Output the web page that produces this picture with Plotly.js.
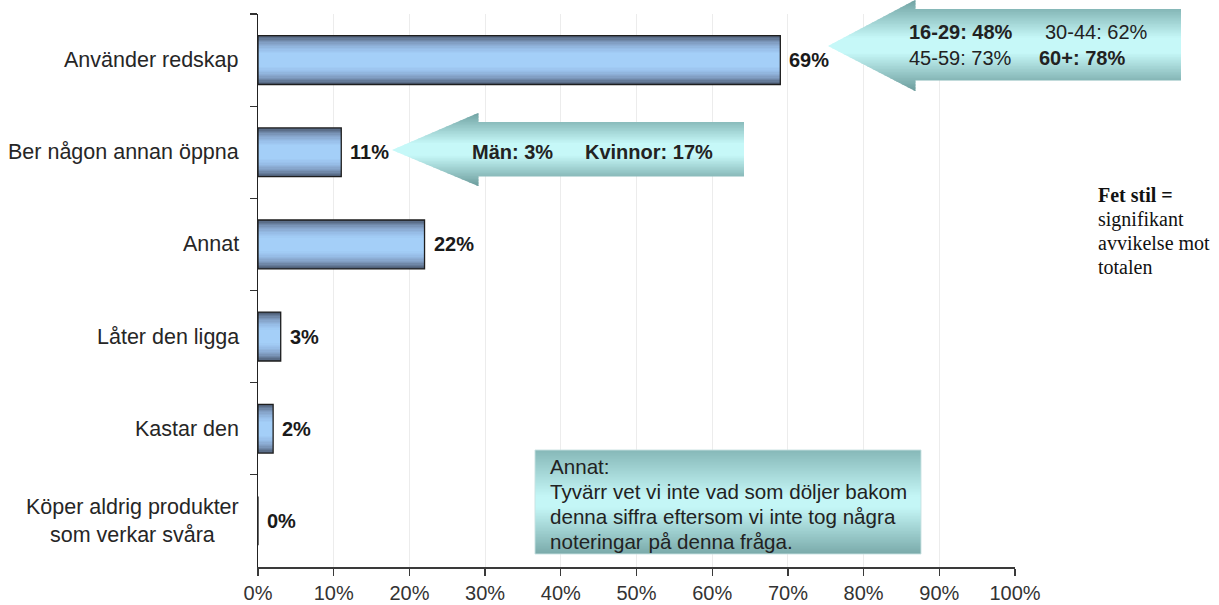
<!DOCTYPE html>
<html><head><meta charset="utf-8">
<script src="https://cdn.plot.ly/plotly-3.0.1.min.js"></script>
<style>html,body{margin:0;padding:0;background:#fff}#chart{width:1219px;height:605px}</style>
</head><body><div id="chart"></div>
<script>
// ---------- data ----------
const categories = ['Använder redskap', 'Ber någon annan öppna', 'Annat', 'Låter den ligga', 'Kastar den', 'Köper aldrig produkter<br>som verkar svåra'];
const values = [69, 11, 22, 3, 2, 0];
const valueLabels = ['69%', '11%', '22%', '3%', '2%', '0%'];
const xTickVals = [0, 10, 20, 30, 40, 50, 60, 70, 80, 90, 100];
const xTickText = ['0%', '10%', '20%', '30%', '40%', '50%', '60%', '70%', '80%', '90%', '100%'];
const ageLabels = ['16-29: 48%', '30-44: 62%', '45-59: 73%', '60+: 78%'];
const ageBold = [true, false, false, true];
const genderLabels = ['Män: 3%', 'Kvinnor: 17%'];
const noteLines = ['Annat:', 'Tyvärr vet vi inte vad som döljer bakom', 'denna siffra eftersom vi inte tog några', 'noteringar på denna fråga.'];
const legendLines = ['<b>Fet stil =</b>', 'signifikant', 'avvikelse mot', 'totalen'];

// ---------- geometry helpers (layout only) ----------
const W = 1219, H = 605, ML = 258, MR = 204, MT = 14, MB = 38;
const PW = W - ML - MR, PH = H - MT - MB;
const px = x => (x - ML) / PW;
const py = y => (H - MB - y) / PH;
const FONT = 'Liberation Sans, Arial, sans-serif';

function mix(a, b, t) { return a.map((v, i) => Math.round(v + (b[i] - v) * t)); }
function gradRGB(stops, t) {
  t = Math.max(0, Math.min(1, t));
  for (let i = 1; i < stops.length; i++) {
    if (t <= stops[i][0]) {
      const s0 = stops[i - 1], s1 = stops[i];
      return mix(s0[1], s1[1], (t - s0[0]) / (s1[0] - s0[0] || 1));
    }
  }
  return stops[stops.length - 1][1];
}
const gradColor = (stops, t) => 'rgb(' + gradRGB(stops, t).join(',') + ')';
const tealStops = [[0, [112, 162, 162]], [0.42, [198, 248, 248]], [0.58, [198, 248, 248]], [1, [108, 156, 156]]];

const shapes = [];
function arrowShapes(a) {
  const ys = [];
  for (let y = a.headTop; y < a.headBot; y += 1.5) ys.push(y);
  ys.push(a.headBot, a.bodyTop, a.bodyBot, a.tipY);
  const uniq = [...new Set(ys.map(v => +v.toFixed(3)))].sort((p, q) => p - q);
  const leftX = y => {
    if (y <= a.tipY) return a.tipX + (a.headX - a.tipX) * (a.tipY - y) / (a.tipY - a.headTop);
    return a.tipX + (a.headX - a.tipX) * (y - a.tipY) / (a.headBot - a.tipY);
  };
  for (let i = 0; i < uniq.length - 1; i++) {
    const y0 = uniq[i];
    const y1 = Math.min(uniq[i + 1] + 0.5, a.headBot);
    const mid = (uniq[i] + uniq[i + 1]) / 2;
    const right = (mid > a.bodyTop && mid < a.bodyBot) ? a.rightX : a.headX + 0.5;
    const y1b = (mid < a.tipY) ? Math.min(y1, a.tipY) : y1;
    const path = 'M' + px(leftX(y0)) + ',' + py(y0) + ' L' + px(right) + ',' + py(y0) +
      ' L' + px(right) + ',' + py(y1b) + ' L' + px(leftX(y1b)) + ',' + py(y1b) + ' Z';
    shapes.push({type: 'path', xref: 'paper', yref: 'paper', path: path,
      fillcolor: gradColor(tealStops, (mid - a.headTop) / (a.headBot - a.headTop)), line: {width: 0}, layer: 'above'});
  }
}
arrowShapes({tipX: 828, tipY: 46, headX: 915, headTop: 0, headBot: 91, bodyTop: 9, bodyBot: 80, rightX: 1181});
arrowShapes({tipX: 392, tipY: 150, headX: 478, headTop: 113, headBot: 186, bodyTop: 122, bodyBot: 176, rightX: 744});

// note box with vertical gradient
(function () {
  const x0 = 535, x1 = 921, y0 = 450, y1 = 554;
  const boxStops = [[0, [134, 184, 184]], [0.45, [196, 246, 246]], [0.55, [196, 246, 246]], [1, [122, 170, 170]]];
  for (let y = y0; y < y1; y += 1.5) {
    const yb = Math.min(y + 2, y1);
    shapes.push({type: 'rect', xref: 'paper', yref: 'paper', x0: px(x0), x1: px(x1), y0: py(y), y1: py(yb),
      fillcolor: gradColor(boxStops, (y + 0.75 - y0) / (y1 - y0)), line: {width: 0}, layer: 'above'});
  }
  shapes.push({type: 'rect', xref: 'paper', yref: 'paper', x0: px(x0), x1: px(x1), y0: py(y0), y1: py(y1),
    fillcolor: 'rgba(0,0,0,0)', line: {width: 1, color: 'rgba(200,225,225,0.9)'}, layer: 'above'});
})();

// ---------- bar traces (gradient by overlaid layers) ----------
const BW = 0.53;
const barStops = [[0, [80, 97, 122]], [0.35, [128, 156, 192]], [0.7, [152, 190, 232]], [1, [164, 207, 248]]];
const NL = 14;
const traces = [];
for (let i = 0; i < NL; i++) {
  const t = i / (NL - 1);
  traces.push({
    type: 'bar', orientation: 'h', x: values, y: categories, width: BW * (1 - 0.72 * t),
    marker: {color: gradColor(barStops, t), line: {width: 0}}, hoverinfo: 'skip', showlegend: false
  });
}
traces.push({
  type: 'bar', orientation: 'h', x: values, y: categories, width: BW,
  marker: {color: 'rgba(0,0,0,0)', line: {width: 1.3, color: '#1e1e1e'}}, hoverinfo: 'skip', showlegend: false
});

// ---------- annotations ----------
const annotations = [];
categories.forEach((c, i) => {
  annotations.push({xref: 'paper', x: 0, xanchor: 'right', xshift: -17, yref: 'y', y: c, yanchor: 'middle',
    text: c, showarrow: false, align: 'center', font: {family: FONT, size: 21.5, color: '#262626'}});
  annotations.push({xref: 'x', x: values[i], xanchor: 'left', xshift: 7, yref: 'y', y: c, yanchor: 'middle',
    text: '<b>' + valueLabels[i] + '</b>', showarrow: false, font: {family: FONT, size: 20, color: '#1a1a1a'}});
});
const agePos = [[907, 32], [1043, 32], [907, 58], [1037, 58]];
ageLabels.forEach((t, i) => {
  annotations.push({xref: 'paper', yref: 'paper', x: px(agePos[i][0]), y: py(agePos[i][1]), xanchor: 'left', yanchor: 'middle',
    text: ageBold[i] ? '<b>' + t + '</b>' : t, showarrow: false, font: {family: FONT, size: 20, color: '#222'}});
});
const genderPos = [[470, 152], [583, 152]];
genderLabels.forEach((t, i) => {
  annotations.push({xref: 'paper', yref: 'paper', x: px(genderPos[i][0]), y: py(genderPos[i][1]), xanchor: 'left', yanchor: 'middle',
    text: '<b>' + t + '</b>', showarrow: false, font: {family: FONT, size: 20, color: '#222'}});
});
noteLines.forEach((t, i) => {
  annotations.push({xref: 'paper', yref: 'paper', x: px(548), y: py(466 + 25 * i), xanchor: 'left', yanchor: 'middle',
    text: t, showarrow: false, font: {family: FONT, size: 20.6, color: '#222'}});
});
legendLines.forEach((t, i) => {
  annotations.push({xref: 'paper', yref: 'paper', x: px(1096), y: py(195 + 24 * i), xanchor: 'left', yanchor: 'middle',
    text: t, showarrow: false, font: {family: 'Liberation Serif, Times New Roman, serif', size: 20, color: '#111'}});
});

const layout = {
  width: W, height: H,
  margin: {l: ML, r: MR, t: MT, b: MB, pad: 0},
  paper_bgcolor: '#fff', plot_bgcolor: '#fff',
  barmode: 'overlay', bargap: 0,
  showlegend: false,
  font: {family: FONT, size: 20, color: '#333'},
  xaxis: {
    range: [0, 100], tickvals: xTickVals, ticktext: xTickText,
    showgrid: true, gridcolor: '#ececec', gridwidth: 1, zeroline: false,
    showline: true, linecolor: '#3a3a3a', linewidth: 1.5,
    ticks: 'outside', ticklen: 7, tickcolor: '#3a3a3a', tickwidth: 1.3,
    tickfont: {family: FONT, size: 20, color: '#333'}, fixedrange: true
  },
  yaxis: {
    type: 'category', categoryorder: 'array', categoryarray: categories,
    autorange: 'reversed', showticklabels: false, showgrid: false, zeroline: false,
    showline: true, linecolor: '#222', linewidth: 1.3,
    ticks: 'outside', tickson: 'boundaries', ticklen: 7, tickcolor: '#333', tickwidth: 1.2, fixedrange: true
  },
  shapes: shapes,
  annotations: annotations
};

Plotly.newPlot('chart', traces, layout, {staticPlot: true, displayModeBar: false});
</script>
</body></html>
